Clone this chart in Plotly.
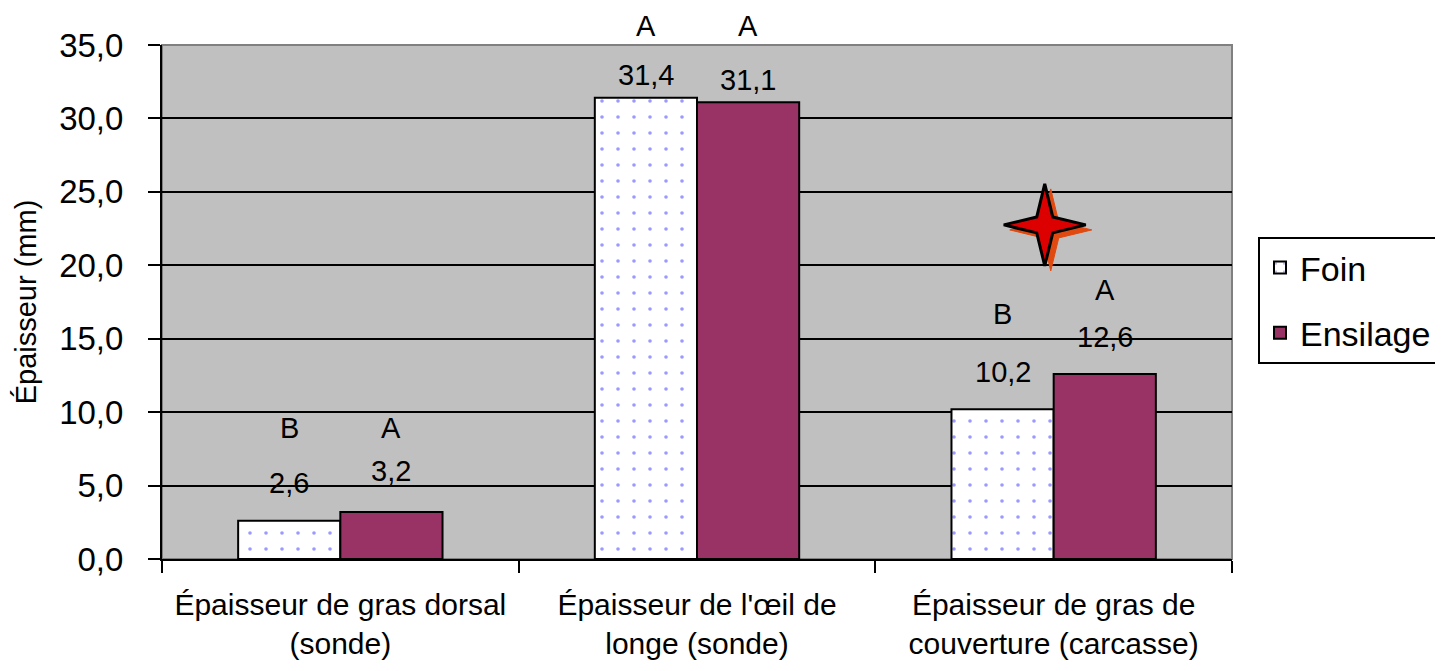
import plotly.graph_objects as go

categories = ["Épaisseur de gras dorsal<br>(sonde)",
              "Épaisseur de l'œil de<br>longe (sonde)",
              "Épaisseur de gras de<br>couverture (carcasse)"]
series_names = ["Foin", "Ensilage"]
foin = [2.6, 31.4, 10.2]
ensilage = [3.2, 31.1, 12.6]
foin_letters = ["B", "A", "B"]
ensilage_letters = ["A", "A", "A"]
y_ticks = [0, 5, 10, 15, 20, 25, 30, 35]

# styles / positions (pixel shifts above bar tops)
label_shift_foin = [38, 23, 37]
label_shift_ens = [41, 22, 37]
letter_shift_foin = [93, 72, 95]
letter_shift_ens = [84, 76, 84]

FONT = "Liberation Sans, Arial, sans-serif"
ENS_COLOR = "#993366"
BARGAP = 0.427

fig = go.Figure()
fig.add_trace(go.Bar(
    name=series_names[0], x=categories, y=foin, legendgroup="g1",
    marker=dict(color="white", line=dict(color="black", width=2),
                pattern=dict(shape=".", fgcolor="#9999ff", bgcolor="white",
                             size=16, solidity=0.04, fillmode="replace")),
))
fig.add_trace(go.Bar(
    name=series_names[1], x=categories, y=ensilage, legendgroup="g2",
    marker=dict(color=ENS_COLOR, line=dict(color="black", width=2)),
))

half = (1 - BARGAP) / 4.0
annotations = []
for i in range(len(categories)):
    for vals, lets, ls, lt, off in [
        (foin, foin_letters, label_shift_foin, letter_shift_foin, -half),
        (ensilage, ensilage_letters, label_shift_ens, letter_shift_ens, half),
    ]:
        v = vals[i]
        annotations.append(dict(
            x=i + off, y=v, xref="x", yref="y", text=f"{v:.1f}".replace(".", ","),
            showarrow=False, yanchor="middle", yshift=ls[i],
            font=dict(family=FONT, size=29, color="black")))
        annotations.append(dict(
            x=i + off, y=v, xref="x", yref="y", text=lets[i],
            showarrow=False, yanchor="middle", yshift=lt[i],
            font=dict(family=FONT, size=29, color="black")))

# decorative four-point star
def star_path(r=41, ri=8):
    pts = [(0, r), (ri, ri), (r, 0), (ri, -ri), (0, -r), (-ri, -ri), (-r, 0), (-ri, ri)]
    return "M " + " L ".join(f"{x},{y}" for x, y in pts) + " Z"

PW, PH = 1070, 514
sx, sy = 0.825, 0.650
shapes = [
    dict(type="rect", xref="paper", yref="paper", x0=0, x1=1, y0=0, y1=1,
         line=dict(color="#808080", width=2), layer="below"),
    dict(type="path", xref="paper", yref="paper", xsizemode="pixel", ysizemode="pixel",
         xanchor=sx + 6 / PW, yanchor=sy - 5 / PH, path=star_path(),
         fillcolor="#e04a10", line=dict(color="#e04a10", width=1)),
    dict(type="path", xref="paper", yref="paper", xsizemode="pixel", ysizemode="pixel",
         xanchor=sx, yanchor=sy, path=star_path(),
         fillcolor="#dd0000", line=dict(color="black", width=3)),
]

W, H = 1435, 663
fig.update_layout(
    width=W, height=H,
    margin=dict(l=154, r=211, t=37, b=112),
    paper_bgcolor="white", plot_bgcolor="#c0c0c0",
    barmode="group", bargap=BARGAP, bargroupgap=0,
    separators=",.",
    font=dict(family=FONT, color="black"),
    annotations=annotations, shapes=shapes,
    legend=dict(xref="container", yref="container",
                x=1250 / W, y=1 - 229 / H, xanchor="left", yanchor="top",
                bgcolor="white", bordercolor="black", borderwidth=2,
                font=dict(family=FONT, size=34), tracegroupgap=18,
                traceorder="grouped", itemclick=False),
    xaxis=dict(type="category", tickson="boundaries", ticks="outside", ticklen=12,
               tickwidth=2, tickcolor="black", showline=True, linecolor="black",
               linewidth=2, showgrid=False, ticklabelstandoff=18,
               tickfont=dict(family=FONT, size=30, color="black")),
    yaxis=dict(range=[0, 35], tickvals=y_ticks, tickformat=".1f", ticks="outside",
               ticklen=12, tickwidth=2, tickcolor="black", showline=True,
               linecolor="black", linewidth=2, showgrid=True, gridcolor="black",
               gridwidth=2, zeroline=False, ticklabelstandoff=18,
               tickfont=dict(family=FONT, size=33, color="black"),
               title=dict(text="Épaisseur (mm)", standoff=14,
                          font=dict(family=FONT, size=29, color="black"))),
)

fig.write_html("out.html")
